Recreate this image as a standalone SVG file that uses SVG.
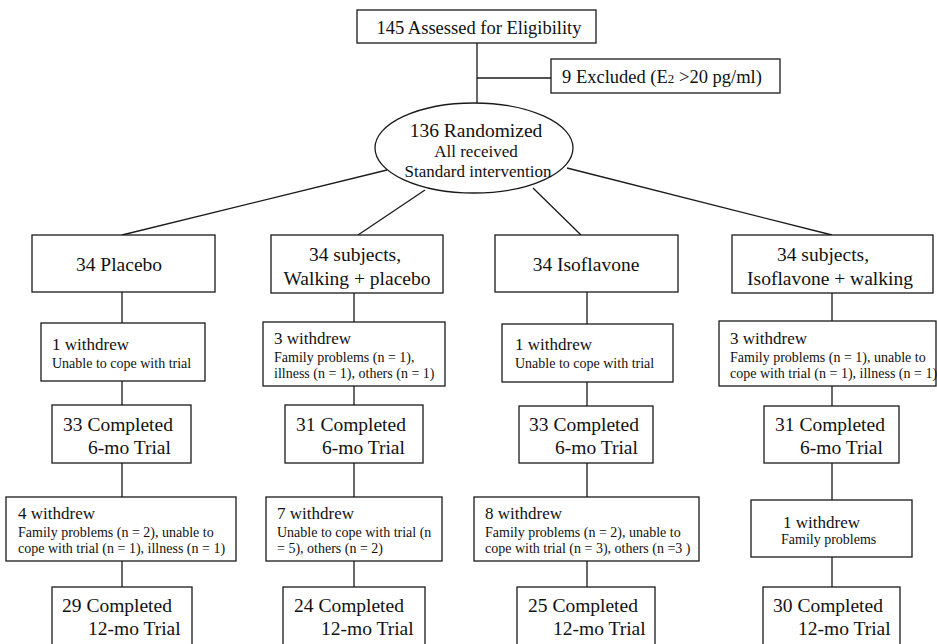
<svg xmlns="http://www.w3.org/2000/svg" width="937" height="644" viewBox="0 0 937 644">
<style>
  .box { fill: #fff; stroke: #1a1a1a; stroke-width: 1.3; }
  .ln { fill: none; stroke: #1a1a1a; stroke-width: 1.3; }
  text { font-family: "Liberation Serif", "Times New Roman", serif; fill: #111; }
  .big { font-size: 19.5px; }
  .mid { font-size: 17px; }
  .sm { font-size: 14px; }
  .c { text-anchor: middle; }
</style>
<rect width="937" height="644" fill="#fff"/>
<g id="connectors">
  <line class="ln" x1="477" y1="43" x2="477" y2="103"/>
  <line class="ln" x1="477" y1="78" x2="551" y2="78"/>
  <line class="ln" x1="387" y1="170" x2="122" y2="235"/>
  <line class="ln" x1="425" y1="190" x2="358" y2="235"/>
  <line class="ln" x1="533" y1="188" x2="581" y2="235"/>
  <line class="ln" x1="567" y1="168" x2="832" y2="235"/>
  <line class="ln" x1="122" y1="292" x2="122" y2="323"/>
  <line class="ln" x1="122" y1="381" x2="122" y2="405"/>
  <line class="ln" x1="122" y1="463" x2="122" y2="497"/>
  <line class="ln" x1="122" y1="561" x2="122" y2="587"/>
  <line class="ln" x1="354" y1="292" x2="354" y2="322"/>
  <line class="ln" x1="354" y1="386" x2="354" y2="405"/>
  <line class="ln" x1="354" y1="463" x2="354" y2="497"/>
  <line class="ln" x1="354" y1="561" x2="354" y2="587"/>
  <line class="ln" x1="587" y1="292" x2="587" y2="324"/>
  <line class="ln" x1="587" y1="382" x2="587" y2="406"/>
  <line class="ln" x1="587" y1="463" x2="587" y2="497"/>
  <line class="ln" x1="587" y1="561" x2="587" y2="587"/>
  <line class="ln" x1="832" y1="292" x2="832" y2="321"/>
  <line class="ln" x1="832" y1="386" x2="832" y2="406"/>
  <line class="ln" x1="832" y1="463" x2="832" y2="500"/>
  <line class="ln" x1="832" y1="557" x2="832" y2="587"/>
</g>
<g id="assessed">
  <rect class="box" x="357" y="10" width="239" height="33"/>
  <text class="c" x="479" y="34" style="font-size:18.5px">145 Assessed for Eligibility</text>
</g>
<g id="excluded">
  <rect class="box" x="551" y="59" width="229" height="34"/>
  <text x="562" y="83" style="font-size:18.5px">9 Excluded (E<tspan style="font-size:13px">2</tspan> &gt;20 pg/ml)</text>
</g>
<g id="randomized">
  <ellipse class="box" cx="474" cy="148" rx="99" ry="45"/>
  <text class="c big" x="476" y="137">136 Randomized</text>
  <text class="c mid" x="476" y="157">All received</text>
  <text class="c mid" x="478" y="177">Standard intervention</text>
</g>
<g id="placebo">
  <rect class="box" x="32" y="235" width="183" height="57"/>
  <text class="c big" x="119" y="271">34 Placebo</text>
</g>
<g id="walking">
  <rect class="box" x="271" y="235" width="172" height="58"/>
  <text class="c big" x="355" y="261">34 subjects,</text>
  <text class="c big" x="357" y="285">Walking + placebo</text>
</g>
<g id="isoflavone">
  <rect class="box" x="495" y="235" width="183" height="57"/>
  <text class="c big" x="586" y="271">34 Isoflavone</text>
</g>
<g id="isowalk">
  <rect class="box" x="732" y="235" width="201" height="58"/>
  <text class="c big" x="823" y="261">34 subjects,</text>
  <text class="c big" x="830" y="285">Isoflavone + walking</text>
</g>
<g id="placebo-w1">
  <rect class="box" x="41" y="323" width="164" height="58"/>
  <text class="mid" x="52" y="350">1 withdrew</text>
  <text class="sm" x="52" y="368">Unable to cope with trial</text>
</g>
<g id="walking-w1">
  <rect class="box" x="263" y="322" width="182" height="64"/>
  <text class="mid" x="274" y="344">3 withdrew</text>
  <text class="sm" x="274" y="362">Family problems (n = 1),</text>
  <text class="sm" x="274" y="378">illness (n = 1), others (n = 1)</text>
</g>
<g id="isoflavone-w1">
  <rect class="box" x="502" y="324" width="171" height="58"/>
  <text class="mid" x="515" y="350">1 withdrew</text>
  <text class="sm" x="515" y="368">Unable to cope with trial</text>
</g>
<g id="isowalk-w1">
  <rect class="box" x="719" y="321" width="217" height="65"/>
  <text class="mid" x="730" y="344">3 withdrew</text>
  <text class="sm" x="730" y="362">Family problems (n = 1), unable to</text>
  <text class="sm" x="730" y="378">cope with trial (n = 1), illness (n = 1)</text>
</g>
<g id="placebo-c6">
  <rect class="box" x="52" y="405" width="139" height="58"/>
  <text class="big" x="63" y="431">33 Completed</text>
  <text class="big" x="88" y="454">6-mo Trial</text>
</g>
<g id="walking-c6">
  <rect class="box" x="285" y="405" width="138" height="58"/>
  <text class="big" x="296" y="431">31 Completed</text>
  <text class="big" x="322" y="454">6-mo Trial</text>
</g>
<g id="isoflavone-c6">
  <rect class="box" x="519" y="406" width="134" height="57"/>
  <text class="big" x="529" y="431">33 Completed</text>
  <text class="big" x="555" y="454">6-mo Trial</text>
</g>
<g id="isowalk-c6">
  <rect class="box" x="764" y="406" width="135" height="57"/>
  <text class="big" x="775" y="431">31 Completed</text>
  <text class="big" x="800" y="454">6-mo Trial</text>
</g>
<g id="placebo-w2">
  <rect class="box" x="6" y="497" width="230" height="64"/>
  <text class="mid" x="18" y="519">4 withdrew</text>
  <text class="sm" x="18" y="537">Family problems (n = 2), unable to</text>
  <text class="sm" x="18" y="553">cope with trial (n = 1), illness (n = 1)</text>
</g>
<g id="walking-w2">
  <rect class="box" x="266" y="497" width="176" height="64"/>
  <text class="mid" x="277" y="519">7 withdrew</text>
  <text class="sm" x="277" y="537">Unable to cope with trial (n</text>
  <text class="sm" x="277" y="553">= 5), others (n = 2)</text>
</g>
<g id="isoflavone-w2">
  <rect class="box" x="474" y="497" width="225" height="64"/>
  <text class="mid" x="485" y="519">8 withdrew</text>
  <text class="sm" x="485" y="537">Family problems (n = 2), unable to</text>
  <text class="sm" x="485" y="553">cope with trial (n = 3), others (n =3 )</text>
</g>
<g id="isowalk-w2">
  <rect class="box" x="751" y="500" width="161" height="57"/>
  <text class="mid" x="783" y="528">1 withdrew</text>
  <text class="sm" x="781" y="544">Family problems</text>
</g>
<g id="placebo-c12">
  <rect class="box" x="52" y="587" width="140" height="62"/>
  <text class="big" x="62" y="612">29 Completed</text>
  <text class="big" x="88" y="635">12-mo Trial</text>
</g>
<g id="walking-c12">
  <rect class="box" x="283" y="587" width="142" height="62"/>
  <text class="big" x="294" y="612">24 Completed</text>
  <text class="big" x="321" y="635">12-mo Trial</text>
</g>
<g id="isoflavone-c12">
  <rect class="box" x="517" y="587" width="138" height="62"/>
  <text class="big" x="528" y="612">25 Completed</text>
  <text class="big" x="553" y="635">12-mo Trial</text>
</g>
<g id="isowalk-c12">
  <rect class="box" x="763" y="587" width="137" height="62"/>
  <text class="big" x="773" y="612">30 Completed</text>
  <text class="big" x="798" y="635">12-mo Trial</text>
</g>
</svg>
